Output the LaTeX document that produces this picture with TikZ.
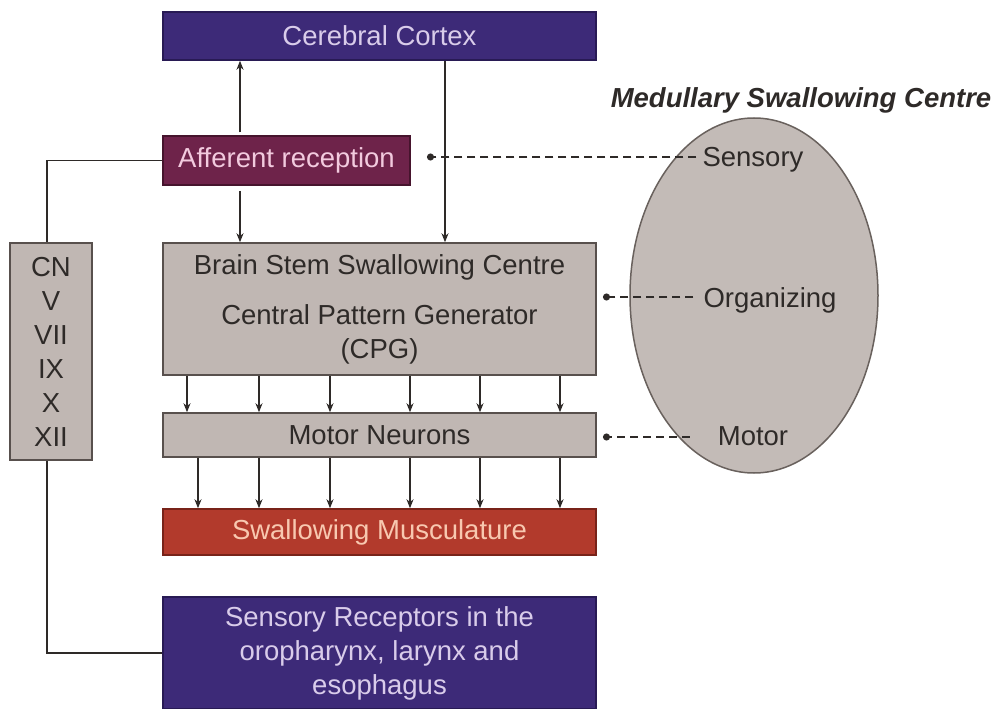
\documentclass[tikz,border=0pt]{standalone}
\usepackage{fontspec}
\setmainfont{Liberation Sans}
\usetikzlibrary{arrows.meta,shapes.geometric}
\definecolor{purp}{RGB}{61,42,120}
\definecolor{purpb}{RGB}{40,26,84}
\definecolor{purpt}{RGB}{217,204,234}
\definecolor{plum}{RGB}{110,35,74}
\definecolor{plumb}{RGB}{70,20,45}
\definecolor{plumt}{RGB}{242,202,222}
\definecolor{gbox}{RGB}{192,183,179}
\definecolor{gboxb}{RGB}{88,80,77}
\definecolor{redb}{RGB}{178,58,44}
\definecolor{redbb}{RGB}{120,35,25}
\definecolor{redt}{RGB}{248,200,176}
\definecolor{ellf}{RGB}{195,187,183}
\definecolor{ellb}{RGB}{105,97,93}
\definecolor{ink}{RGB}{46,42,40}
\begin{document}
\begin{tikzpicture}[x=1pt,y=-1pt,
  font=\fontsize{27.5}{34}\selectfont,
  boxbase/.style={rectangle,inner sep=0pt,line width=1.5pt,align=center},
  purpbox/.style={boxbase,fill=purp,draw=purpb,text=purpt},
  plumbox/.style={boxbase,fill=plum,draw=plumb,text=plumt},
  graybox/.style={boxbase,fill=gbox,draw=gboxb,text=ink},
  redbox/.style={boxbase,fill=redb,draw=redbb,text=redt},
  arr/.style={draw=ink,line width=1.8pt,-{Stealth[length=9pt,width=7pt]}},
  plain/.style={draw=ink,line width=1.8pt},
  dashc/.style={draw=ink,line width=1.8pt,dash pattern=on 8pt off 5pt,-{Circle[length=7pt]}},
  lbl/.style={inner sep=0pt,text=ink}]
\useasboundingbox[fill=white] (0,0) rectangle (997,709);

% ellipse (behind)
\node[ellipse,inner sep=0pt,minimum width=248,minimum height=355,fill=ellf,draw=ellb,line width=1.5pt] (ell) at (754,295.5) {};
\node[lbl] (title) at (801,100) {\bfseries\itshape Medullary Swallowing Centre};
\node[lbl] (sens) at (753,160) {Sensory};
\node[lbl] (org) at (770,300) {Organizing};
\node[lbl] (mot) at (753,436) {Motor};

% boxes
\node[purpbox,minimum width=433,minimum height=48] (cortex) at (379.5,36) {Cerebral Cortex};
\node[plumbox,minimum width=247,minimum height=49] (aff) at (286.5,160.5) {Afferent reception};
\node[graybox,minimum width=433,minimum height=132] (bs) at (379.5,309)
  {Brain Stem Swallowing Centre\\[16pt]Central Pattern Generator\\(CPG)};
\node[graybox,minimum width=433,minimum height=44] (mn) at (379.5,435) {Motor Neurons};
\node[redbox,minimum width=433,minimum height=46] (sm) at (379.5,532) {Swallowing Musculature};
\node[purpbox,minimum width=433,minimum height=112] (sr) at (379.5,653)
  {Sensory Receptors in the\\oropharynx, larynx and\\esophagus};
\node[graybox,minimum width=82,minimum height=217] (cn) at (51,351.5) {CN\\V\\VII\\IX\\X\\XII};

% helper coordinates
\coordinate (xa) at (240,0);
\coordinate (xc) at (445,0);
\coordinate (xl) at (47,0);
\foreach \x [count=\i] in {187,259,330,410,480,560} {\coordinate (u\i) at (\x,0);}
\foreach \x [count=\i] in {198,259,330,410,480,560} {\coordinate (d\i) at (\x,0);}
\coordinate (dotS) at (427,157);
\coordinate (dotO) at (603,297);
\coordinate (dotM) at (603,437);

% vertical arrows
\draw[arr,shorten <=3pt] (aff.north -| xa) -- (cortex.south -| xa);
\draw[arr,shorten <=5pt] (aff.south -| xa) -- (bs.north -| xa);
\draw[arr] (cortex.south -| xc) -- (bs.north -| xc);
\foreach \i in {1,...,6} {\draw[arr] (bs.south -| u\i) -- (mn.north -| u\i);}
\foreach \i in {1,...,6} {\draw[arr] (mn.south -| d\i) -- (sm.north -| d\i);}

% CN loop
\draw[plain] (aff.west) -| (cn.north -| xl);
\draw[plain] (cn.south -| xl) |- (sr.west);

% dashed connectors
\draw[dashc] ([xshift=-6pt]sens.west |- dotS) -- (dotS);
\draw[dashc] ([xshift=-10pt]org.west |- dotO) -- (dotO);
\draw[dashc] ([xshift=-28pt]mot.west |- dotM) -- (dotM);
\end{tikzpicture}
\end{document}
